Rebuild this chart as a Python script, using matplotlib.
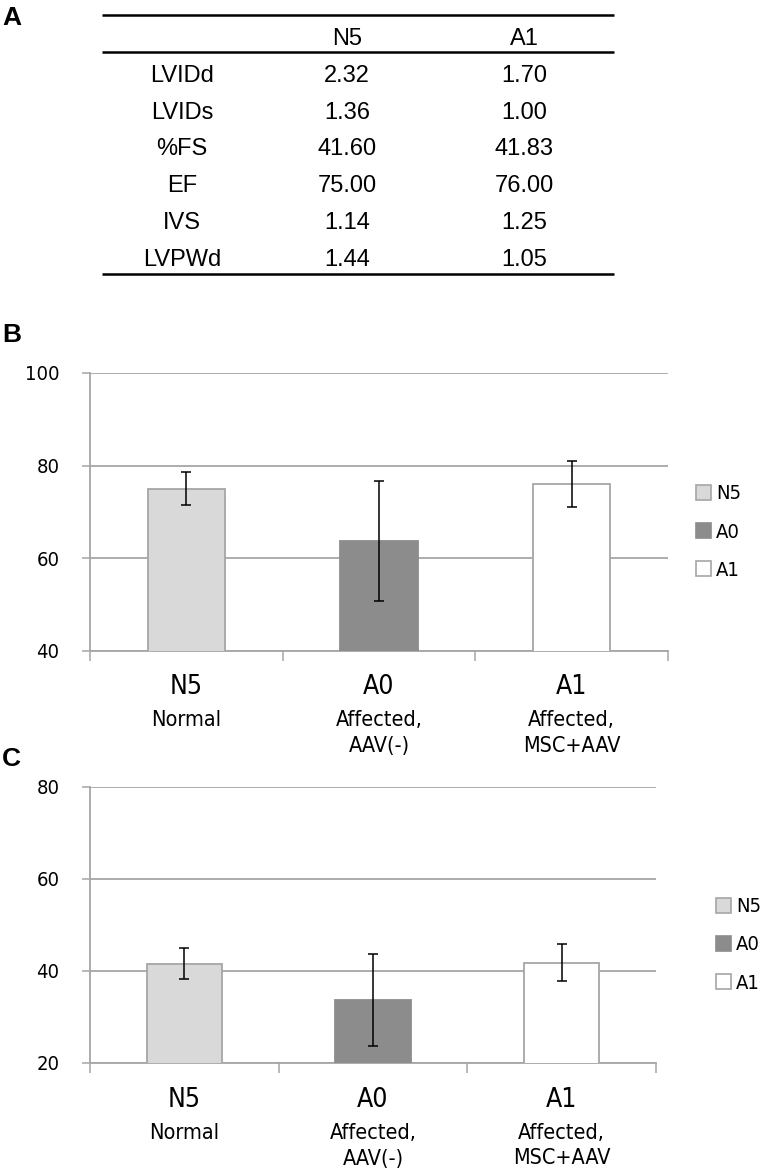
import matplotlib
matplotlib.use("Agg")
import matplotlib.pyplot as plt
from matplotlib.patches import Patch

# ---------------- data ----------------
table_cols = ["N5", "A1"]
table_rows = ["LVIDd", "LVIDs", "%FS", "EF", "IVS", "LVPWd"]
table_n5 = ["2.32", "1.36", "41.60", "75.00", "1.14", "1.44"]
table_a1 = ["1.70", "1.00", "41.83", "76.00", "1.25", "1.05"]

groups = ["N5", "A0", "A1"]
group_desc = ["Normal", "Affected,\nAAV(-)", "Affected,\nMSC+AAV"]
ef_mean = [75.0, 63.7, 76.0]
ef_err = [3.6, 13.0, 4.9]
fs_mean = [41.6, 33.7, 41.83]
fs_err = [3.4, 10.0, 4.0]
b_ticks = [40, 60, 80, 100]
c_ticks = [20, 40, 60, 80]

bar_colors = ["#d9d9d9", "#8c8c8c", "#ffffff"]
edge_colors = ["#a6a6a6", "#8c8c8c", "#a6a6a6"]
GRID = "#a6a6a6"

CH = dict(family="DejaVu Sans", fontstretch="condensed")

fig = plt.figure(figsize=(7.75, 11.7), dpi=100)
W, H = 775.0, 1170.0

def px_axes(x0, y0, x1, y1):
    return fig.add_axes([x0 / W, 1 - y1 / H, (x1 - x0) / W, (y1 - y0) / H])

# ---------------- panel labels ----------------
for lab, yc in [("A", 18), ("B", 335), ("C", 759)]:
    fig.text(2 / W, 1 - yc / H, lab, fontsize=19, fontweight="bold",
             family="Liberation Sans", va="center", ha="left")

# ---------------- table ----------------
tax = px_axes(102, 0, 614, 290)
tax.set_xlim(0, 1)
row_px = 36.8
tax.set_ylim((290 - 39) / row_px, -39 / row_px)
tax.axis("off")
col_x = [0.156, 0.479, 0.825]
TF = dict(family="Liberation Sans", fontsize=17, ha="center", va="center")
for j, c in enumerate(table_cols):
    tax.text(col_x[j + 1], 0, c, **TF)
for i, r in enumerate(table_rows):
    tax.text(col_x[0], i + 1, r, **TF)
    tax.text(col_x[1], i + 1, table_n5[i], **TF)
    tax.text(col_x[2], i + 1, table_a1[i], **TF)
for yl in [-0.65, 0.35, len(table_rows) + 0.38]:
    tax.plot([0, 1], [yl, yl], color="black", lw=1.8, solid_capstyle="butt",
             clip_on=False)

# ---------------- bar panels ----------------
def bar_panel(ax, means, errs, ticks, leg_anchor):
    x = list(range(len(groups)))
    ax.bar(x, means, width=0.4, color=bar_colors, edgecolor=edge_colors,
           linewidth=1.3, zorder=3)
    ax.errorbar(x, means, yerr=errs, fmt="none", ecolor="black",
                elinewidth=1.1, capsize=3.6, capthick=1.1, zorder=4)
    ax.set_xlim(-0.5, len(groups) - 0.5)
    ax.set_ylim(ticks[0], ticks[-1])
    ax.set_yticks(ticks)
    ax.set_yticklabels([str(t) for t in ticks], **CH, fontsize=14.5)
    ax.yaxis.grid(True, color=GRID, lw=1.3, zorder=0)
    ax.set_axisbelow(True)
    ax.set_xticks([i - 0.5 for i in range(len(groups) + 1)])
    ax.set_xticklabels([])
    ax.tick_params(axis="x", length=7, width=1.1, color=GRID, direction="out")
    ax.tick_params(axis="y", length=6, width=1.1, color=GRID, direction="out",
                   pad=16)
    for s in ["top", "right"]:
        ax.spines[s].set_visible(False)
    for s in ["left", "bottom"]:
        ax.spines[s].set_color(GRID)
        ax.spines[s].set_linewidth(1.3)
    for i, g in enumerate(groups):
        ax.annotate(g, xy=(i, 0), xycoords=("data", "axes fraction"),
                    xytext=(0, -37 * 0.72), textcoords="offset points",
                    ha="center", va="center", fontsize=19, **CH)
        for k, line in enumerate(group_desc[i].split("\n")):
            ax.annotate(line, xy=(i, 0), xycoords=("data", "axes fraction"),
                        xytext=(0, -(70 + 25.5 * k) * 0.72),
                        textcoords="offset points",
                        ha="center", va="center", fontsize=15.5, **CH)
    handles = [Patch(facecolor=bar_colors[i], edgecolor=edge_colors[i],
                     linewidth=1.2, label=g) for i, g in enumerate(groups)]
    ax.legend(handles=handles, loc="center left",
              bbox_to_anchor=leg_anchor, frameon=False, borderpad=0,
              handlelength=0.72, handleheight=0.72, handletextpad=0.28,
              labelspacing=0.95, borderaxespad=0,
              prop=dict(family="DejaVu Sans", stretch="condensed",
                        size=14.5))

axB = px_axes(90, 373, 668, 650.5)
bar_panel(axB, ef_mean, ef_err, b_ticks, ((696 - 90) / 578, (650.5 - 532) / 277.5))

axC = px_axes(90, 787, 656, 1063)
bar_panel(axC, fs_mean, fs_err, c_ticks, ((716 - 90) / 566, (1063 - 945) / 276))

fig.savefig("out.png", dpi=100)
